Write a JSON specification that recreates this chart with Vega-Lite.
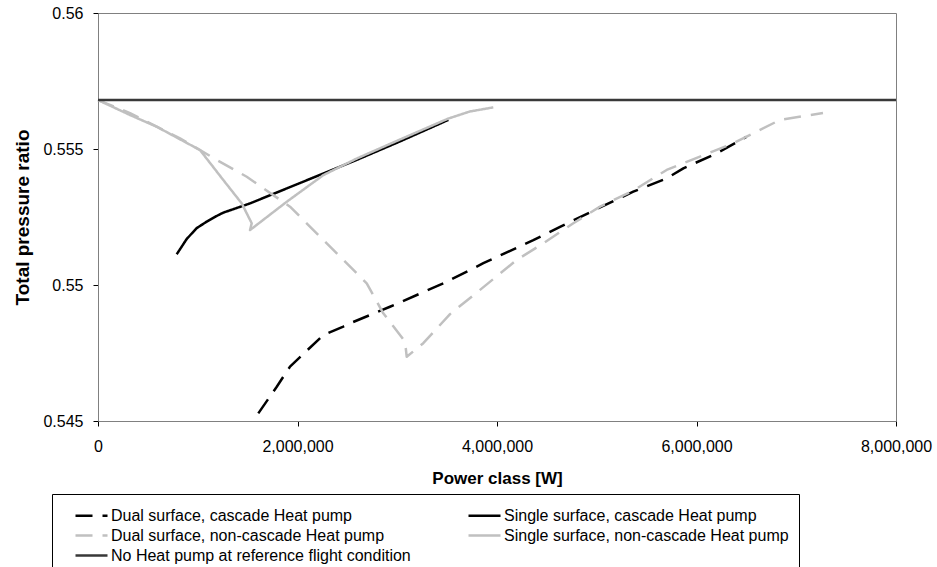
{
  "$schema": "https://vega.github.io/schema/vega-lite/v6.json",
  "width": 798,
  "height": 408,
  "autosize": {"type": "none"},
  "padding": {"left": 98, "top": 13, "right": 41, "bottom": 146},
  "background": "white",
  "config": {
    "font": "Liberation Sans",
    "view": {"stroke": "#808080", "strokeWidth": 1},
    "axis": {"grid": false, "domainColor": "#808080", "tickColor": "#000000", "tickSize": 5, "labelColor": "#000000", "titleColor": "#000000", "labelFontSize": 16, "titleFontSize": 17, "titleFontWeight": "bold", "labelFont": "Liberation Sans", "titleFont": "Liberation Sans"}
  },
  "datasets": {
    "curves": [
      {"s": "Dual surface, cascade Heat pump", "i": 0, "x": 1607000, "y": 0.54528},
      {"s": "Dual surface, cascade Heat pump", "i": 1, "x": 1792000, "y": 0.54626},
      {"s": "Dual surface, cascade Heat pump", "i": 2, "x": 1925000, "y": 0.54700},
      {"s": "Dual surface, cascade Heat pump", "i": 3, "x": 2259000, "y": 0.54816},
      {"s": "Dual surface, cascade Heat pump", "i": 4, "x": 2459000, "y": 0.54847},
      {"s": "Dual surface, cascade Heat pump", "i": 5, "x": 2526000, "y": 0.54859},
      {"s": "Dual surface, cascade Heat pump", "i": 6, "x": 2927000, "y": 0.54920},
      {"s": "Dual surface, cascade Heat pump", "i": 7, "x": 3462000, "y": 0.55006},
      {"s": "Dual surface, cascade Heat pump", "i": 8, "x": 3863000, "y": 0.55080},
      {"s": "Dual surface, cascade Heat pump", "i": 9, "x": 4364000, "y": 0.55165},
      {"s": "Dual surface, cascade Heat pump", "i": 10, "x": 4632000, "y": 0.55214},
      {"s": "Dual surface, cascade Heat pump", "i": 11, "x": 5033000, "y": 0.55285},
      {"s": "Dual surface, cascade Heat pump", "i": 12, "x": 5366000, "y": 0.55343},
      {"s": "Dual surface, cascade Heat pump", "i": 13, "x": 5701000, "y": 0.55392},
      {"s": "Dual surface, cascade Heat pump", "i": 14, "x": 5868000, "y": 0.55429},
      {"s": "Dual surface, cascade Heat pump", "i": 15, "x": 6202000, "y": 0.55484},
      {"s": "Dual surface, cascade Heat pump", "i": 16, "x": 6503000, "y": 0.55545},

      {"s": "Single surface, cascade Heat pump", "i": 0, "x": 789000, "y": 0.55113},
      {"s": "Single surface, cascade Heat pump", "i": 1, "x": 889000, "y": 0.55169},
      {"s": "Single surface, cascade Heat pump", "i": 2, "x": 989000, "y": 0.55209},
      {"s": "Single surface, cascade Heat pump", "i": 3, "x": 1090000, "y": 0.55233},
      {"s": "Single surface, cascade Heat pump", "i": 4, "x": 1206000, "y": 0.55257},
      {"s": "Single surface, cascade Heat pump", "i": 5, "x": 1256000, "y": 0.55266},
      {"s": "Single surface, cascade Heat pump", "i": 6, "x": 1524000, "y": 0.55300},
      {"s": "Single surface, cascade Heat pump", "i": 7, "x": 2594000, "y": 0.55460},
      {"s": "Single surface, cascade Heat pump", "i": 8, "x": 3028000, "y": 0.55528},
      {"s": "Single surface, cascade Heat pump", "i": 9, "x": 3512000, "y": 0.55607},

      {"s": "Dual surface, non-cascade Heat pump", "i": 0, "x": 0, "y": 0.55680},
      {"s": "Dual surface, non-cascade Heat pump", "i": 1, "x": 321000, "y": 0.55632},
      {"s": "Dual surface, non-cascade Heat pump", "i": 2, "x": 822000, "y": 0.55539},
      {"s": "Dual surface, non-cascade Heat pump", "i": 3, "x": 1190000, "y": 0.55460},
      {"s": "Dual surface, non-cascade Heat pump", "i": 4, "x": 1491000, "y": 0.55398},
      {"s": "Dual surface, non-cascade Heat pump", "i": 5, "x": 1925000, "y": 0.55288},
      {"s": "Dual surface, non-cascade Heat pump", "i": 6, "x": 2359000, "y": 0.55129},
      {"s": "Dual surface, non-cascade Heat pump", "i": 7, "x": 2694000, "y": 0.55006},
      {"s": "Dual surface, non-cascade Heat pump", "i": 8, "x": 2860000, "y": 0.54896},
      {"s": "Dual surface, non-cascade Heat pump", "i": 9, "x": 3078000, "y": 0.54792},
      {"s": "Dual surface, non-cascade Heat pump", "i": 10, "x": 3095000, "y": 0.54736},
      {"s": "Dual surface, non-cascade Heat pump", "i": 11, "x": 3261000, "y": 0.54786},
      {"s": "Dual surface, non-cascade Heat pump", "i": 12, "x": 3529000, "y": 0.54893},
      {"s": "Dual surface, non-cascade Heat pump", "i": 13, "x": 3830000, "y": 0.54982},
      {"s": "Dual surface, non-cascade Heat pump", "i": 14, "x": 4197000, "y": 0.55092},
      {"s": "Dual surface, non-cascade Heat pump", "i": 15, "x": 4464000, "y": 0.55153},
      {"s": "Dual surface, non-cascade Heat pump", "i": 16, "x": 4765000, "y": 0.55227},
      {"s": "Dual surface, non-cascade Heat pump", "i": 17, "x": 5033000, "y": 0.55288},
      {"s": "Dual surface, non-cascade Heat pump", "i": 18, "x": 5366000, "y": 0.55347},
      {"s": "Dual surface, non-cascade Heat pump", "i": 19, "x": 5701000, "y": 0.55423},
      {"s": "Dual surface, non-cascade Heat pump", "i": 20, "x": 6369000, "y": 0.55521},
      {"s": "Dual surface, non-cascade Heat pump", "i": 21, "x": 6837000, "y": 0.55607},
      {"s": "Dual surface, non-cascade Heat pump", "i": 22, "x": 7268000, "y": 0.55632},

      {"s": "Single surface, non-cascade Heat pump", "i": 0, "x": 0, "y": 0.55680},
      {"s": "Single surface, non-cascade Heat pump", "i": 1, "x": 321000, "y": 0.55625},
      {"s": "Single surface, non-cascade Heat pump", "i": 2, "x": 588000, "y": 0.55582},
      {"s": "Single surface, non-cascade Heat pump", "i": 3, "x": 1023000, "y": 0.55496},
      {"s": "Single surface, non-cascade Heat pump", "i": 4, "x": 1256000, "y": 0.55386},
      {"s": "Single surface, non-cascade Heat pump", "i": 5, "x": 1441000, "y": 0.55300},
      {"s": "Single surface, non-cascade Heat pump", "i": 6, "x": 1541000, "y": 0.55227},
      {"s": "Single surface, non-cascade Heat pump", "i": 7, "x": 1524000, "y": 0.55202},
      {"s": "Single surface, non-cascade Heat pump", "i": 8, "x": 1892000, "y": 0.55306},
      {"s": "Single surface, non-cascade Heat pump", "i": 9, "x": 2259000, "y": 0.55404},
      {"s": "Single surface, non-cascade Heat pump", "i": 10, "x": 2594000, "y": 0.55465},
      {"s": "Single surface, non-cascade Heat pump", "i": 11, "x": 3028000, "y": 0.55535},
      {"s": "Single surface, non-cascade Heat pump", "i": 12, "x": 3512000, "y": 0.55612},
      {"s": "Single surface, non-cascade Heat pump", "i": 13, "x": 3729000, "y": 0.55638},
      {"s": "Single surface, non-cascade Heat pump", "i": 14, "x": 3963000, "y": 0.55653},

      {"s": "No Heat pump at reference flight condition", "i": 0, "x": 0, "y": 0.55680},
      {"s": "No Heat pump at reference flight condition", "i": 1, "x": 8000000, "y": 0.55680}
    ]
  },
  "data": {"name": "curves"},
  "mark": {"type": "line", "strokeCap": "butt", "strokeJoin": "round"},
  "encoding": {
    "x": {
      "field": "x", "type": "quantitative",
      "scale": {"domain": [0, 8000000], "nice": false, "zero": false},
      "axis": {"values": [0, 2000000, 4000000, 6000000, 8000000], "format": ",.0f", "title": "Power class [W]", "labelPadding": 12, "titlePadding": 16, "labelFlush": false}
    },
    "y": {
      "field": "y", "type": "quantitative",
      "scale": {"domain": [0.545, 0.56], "nice": false, "zero": false},
      "axis": {"values": [0.545, 0.55, 0.555, 0.56], "format": ".3~f", "title": "Total pressure ratio", "labelPadding": 10, "titlePadding": 10, "titleFontSize": 19}
    },
    "order": {"field": "i", "type": "quantitative"},
    "color": {
      "field": "s", "type": "nominal",
      "scale": {
        "domain": ["Dual surface, cascade Heat pump", "Dual surface, non-cascade Heat pump", "No Heat pump at reference flight condition", "Single surface, cascade Heat pump", "Single surface, non-cascade Heat pump"],
        "range": ["#000000", "#c0c0c0", "#383838", "#000000", "#c0c0c0"]
      },
      "legend": {
        "orient": "none", "legendX": -46, "legendY": 481, "columns": 2,
        "symbolType": "M-1.6,0H1.6", "symbolSize": 400, "symbolOffset": 6,
        "labelFontSize": 16, "labelColor": "#000000", "labelFont": "Liberation Sans",
        "labelOffset": 8, "rowPadding": 0, "columnPadding": 52, "labelLimit": 600,
        "strokeColor": "#000000", "fillColor": "#ffffff", "padding": 10,
        "title": " ", "titleOrient": "left", "titlePadding": 12, "titleFontSize": 16
      }
    },
    "strokeDash": {
      "field": "s", "type": "nominal",
      "scale": {
        "domain": ["Dual surface, cascade Heat pump", "Dual surface, non-cascade Heat pump", "No Heat pump at reference flight condition", "Single surface, cascade Heat pump", "Single surface, non-cascade Heat pump"],
        "range": [[17, 10], [17, 10], [1, 0], [1, 0], [1, 0]]
      }
    },
    "strokeWidth": {
      "field": "s", "type": "nominal",
      "scale": {
        "domain": ["Dual surface, cascade Heat pump", "Dual surface, non-cascade Heat pump", "No Heat pump at reference flight condition", "Single surface, cascade Heat pump", "Single surface, non-cascade Heat pump"],
        "range": [2.5, 2.5, 4.5, 2.5, 2.5]
      }
    }
  }
}
